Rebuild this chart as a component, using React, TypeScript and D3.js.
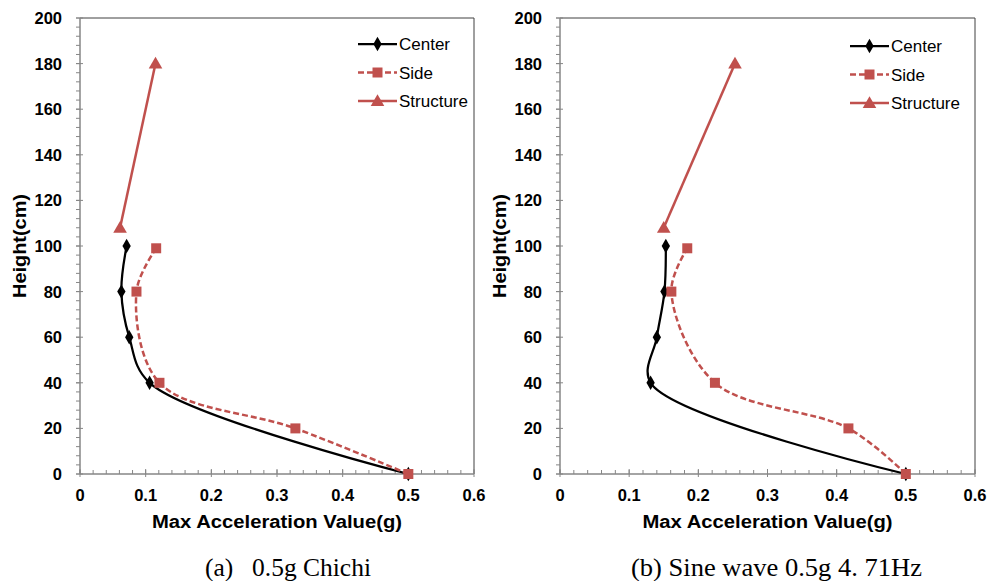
import { useEffect, useRef } from 'react';
import * as d3 from 'd3';

// heights (cm) of the measuring points
const centerHeights = [0, 40, 60, 80, 100];
const sideHeights = [0, 20, 40, 80, 99];
const structureHeights = [108, 180];

// (a) 0.5g Chichi
const chichiCenter = [0.5, 0.106, 0.075, 0.063, 0.071];
const chichiSide = [0.5, 0.328, 0.121, 0.086, 0.116];
const chichiStructure = [0.061, 0.115];

// (b) Sine wave 0.5g 4.71Hz
const sineCenter = [0.5, 0.131, 0.14, 0.151, 0.153];
const sineSide = [0.5, 0.417, 0.224, 0.161, 0.184];
const sineStructure = [0.15, 0.253];

const xTicks = [0, 0.1, 0.2, 0.3, 0.4, 0.5, 0.6];
const yTicks = [0, 20, 40, 60, 80, 100, 120, 140, 160, 180, 200];
const seriesNames = ['Center', 'Side', 'Structure'];

const RED = '#C0504D';
const AXIS = '#868686';
const SANS = 'Liberation Sans, Arial, sans-serif';

const App = () => {
  const ref = useRef<SVGSVGElement>(null);

  useEffect(() => {
    const svg = d3.select(ref.current);
    svg.selectAll('*').remove();

    const panels = [
      { left: 80, right: 474, center: chichiCenter, side: chichiSide, structure: chichiStructure, yLabelX: 26, legendX: 358, legendY: 44 },
      { left: 560, right: 975, center: sineCenter, side: sineSide, structure: sineStructure, yLabelX: 506, legendX: 850, legendY: 46 },
    ];
    const top = 18; const bottom = 474;

    const diamond = d3.symbol().type(d3.symbolDiamond).size(60);
    const square = d3.symbol().type(d3.symbolSquare).size(100);
    const triangle = d3.symbol().type(d3.symbolTriangle).size(80);

    panels.forEach(p => {
      const x = d3.scaleLinear().domain([0, 0.6]).range([p.left, p.right]);
      const y = d3.scaleLinear().domain([0, 200]).range([bottom, top]);
      const g = svg.append('g');

      // plot frame (top + right)
      g.append('path')
        .attr('d', `M${p.left},${top}H${p.right}V${bottom}`)
        .attr('fill', 'none').attr('stroke', '#404040').attr('stroke-width', 1);

      // minor ticks
      g.selectAll('.xminor').data(d3.range(0, 0.6001, 0.02)).enter().append('line')
        .attr('x1', d => x(d)).attr('x2', d => x(d)).attr('y1', bottom).attr('y2', bottom - 4)
        .attr('stroke', AXIS);
      g.selectAll('.yminor').data(d3.range(0, 200.1, 4)).enter().append('line')
        .attr('x1', p.left - 4).attr('x2', p.left).attr('y1', d => y(d)).attr('y2', d => y(d))
        .attr('stroke', AXIS);

      // major ticks + labels
      g.selectAll('.xmajor').data(xTicks).enter().append('line')
        .attr('x1', d => x(d)).attr('x2', d => x(d)).attr('y1', bottom + 3).attr('y2', bottom - 5)
        .attr('stroke', AXIS);
      g.selectAll('.ymajor').data(yTicks).enter().append('line')
        .attr('x1', p.left - 4).attr('x2', p.left + 3).attr('y1', d => y(d)).attr('y2', d => y(d))
        .attr('stroke', AXIS);

      g.append('line').attr('x1', p.left).attr('x2', p.left).attr('y1', top).attr('y2', bottom)
        .attr('stroke', AXIS).attr('stroke-width', 1.5);
      g.append('line').attr('x1', p.left).attr('x2', p.right).attr('y1', bottom).attr('y2', bottom)
        .attr('stroke', AXIS).attr('stroke-width', 1.5);

      g.selectAll('.xlab').data(xTicks).enter().append('text')
        .text(d => String(d))
        .attr('x', d => x(d)).attr('y', bottom + 27)
        .attr('text-anchor', 'middle')
        .attr('font-family', SANS).attr('font-weight', 'bold').attr('font-size', 16.5);
      g.selectAll('.ylab').data(yTicks).enter().append('text')
        .text(d => String(d))
        .attr('x', p.left - 18).attr('y', d => y(d) + 6)
        .attr('text-anchor', 'end')
        .attr('font-family', SANS).attr('font-weight', 'bold').attr('font-size', 16.5);

      g.append('text').text('Max Acceleration Value(g)')
        .attr('x', (p.left + p.right) / 2 - 125).attr('y', 528)
        .attr('textLength', 250).attr('lengthAdjust', 'spacingAndGlyphs')
        .attr('font-family', SANS).attr('font-weight', 'bold').attr('font-size', 18);
      g.append('text').text('Height(cm)')
        .attr('transform', `translate(${p.yLabelX},${(top + bottom) / 2 + 52}) rotate(-90)`)
        .attr('textLength', 104).attr('lengthAdjust', 'spacingAndGlyphs')
        .attr('font-family', SANS).attr('font-weight', 'bold').attr('font-size', 18);

      const centerPts = p.center.map((v, i) => [x(v), y(centerHeights[i])] as [number, number]);
      const sidePts = p.side.map((v, i) => [x(v), y(sideHeights[i])] as [number, number]);
      const structPts = p.structure.map((v, i) => [x(v), y(structureHeights[i])] as [number, number]);

      const lineGen = d3.line().curve(d3.curveCatmullRom.alpha(0.5));

      g.append('path').attr('d', lineGen(centerPts)).attr('fill', 'none')
        .attr('stroke', 'black').attr('stroke-width', 2.25);
      g.selectAll('.cm').data(centerPts).enter().append('path')
        .attr('d', diamond()).attr('transform', d => `translate(${d[0]},${d[1]})`).attr('fill', 'black');

      g.append('path').attr('d', lineGen(sidePts)).attr('fill', 'none')
        .attr('stroke', RED).attr('stroke-width', 2.5).attr('stroke-dasharray', '6,3');
      g.selectAll('.sm').data(sidePts).enter().append('path')
        .attr('d', square()).attr('transform', d => `translate(${d[0]},${d[1]})`).attr('fill', RED);

      g.append('path').attr('d', d3.line()(structPts)).attr('fill', 'none')
        .attr('stroke', RED).attr('stroke-width', 2.5);
      g.selectAll('.tm').data(structPts).enter().append('path')
        .attr('d', triangle()).attr('transform', d => `translate(${d[0]},${d[1] + 1})`).attr('fill', RED);

      // legend
      const markers = [diamond, square, triangle];
      seriesNames.forEach((name, i) => {
        const ly = p.legendY + i * 28.5;
        const lg = g.append('g');
        lg.append('line').attr('x1', p.legendX).attr('x2', p.legendX + 39).attr('y1', ly).attr('y2', ly)
          .attr('stroke', i === 0 ? 'black' : RED).attr('stroke-width', i === 0 ? 2.25 : 2.5)
          .attr('stroke-dasharray', i === 1 ? '6,3' : null);
        lg.append('path').attr('d', markers[i]())
          .attr('transform', `translate(${p.legendX + 19.5},${ly + (i === 2 ? 1 : 0)})`)
          .attr('fill', i === 0 ? 'black' : RED);
        lg.append('text').text(name).attr('x', p.legendX + 41).attr('y', ly + 6)
          .attr('font-family', SANS).attr('font-size', 17);
      });
    });

    // captions
    const serif = 'Liberation Serif, Times New Roman, serif';
    svg.append('text').text('(a)').attr('x', 205).attr('y', 576)
      .attr('font-family', serif).attr('font-size', 25.5);
    svg.append('text').text('0.5g Chichi').attr('x', 252).attr('y', 576)
      .attr('font-family', serif).attr('font-size', 25.5);
    svg.append('text').text('(b) Sine wave 0.5g 4. 71Hz').attr('x', 631).attr('y', 576)
      .attr('textLength', 291).attr('lengthAdjust', 'spacingAndGlyphs')
      .attr('font-family', serif).attr('font-size', 25.5);
  }, []);

  return (
    <svg ref={ref} width={989} height={581}
      style={{ position: 'absolute', left: 0, top: 0, background: 'white' }} />
  );
};

export default App;
